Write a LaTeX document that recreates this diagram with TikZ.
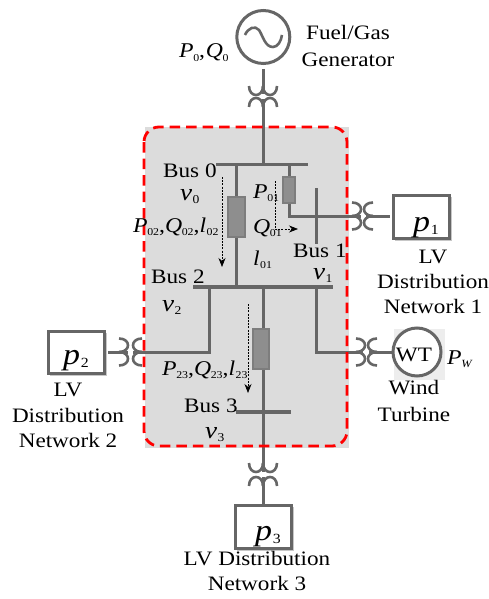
\documentclass[tikz,border=0pt]{standalone}
\usepackage{fontspec}
\setmainfont[FakeStretch=1.13]{Liberation Serif}
\usetikzlibrary{arrows.meta,shadows}
\definecolor{linegray}{HTML}{666666}
\definecolor{panelgray}{HTML}{DCDCDC}
\definecolor{elemgray}{HTML}{8E8E8E}
\newcommand{\Sb}[2]{\textit{#1}\kern-0.02em\raisebox{-0.32ex}{\fontsize{10.5}{12}\selectfont #2}}
\newcommand{\Sl}[2]{\textit{#1}\kern0.02em\raisebox{-0.32ex}{\fontsize{10.5}{12}\selectfont #2}}
\newcommand{\Sv}[2]{\textit{#1}\kern0.02em\raisebox{-0.3ex}{\fontsize{12}{12}\selectfont #2}}
\newcommand{\Sp}[2]{\textit{#1}\kern0.02em\raisebox{-0.28ex}{\fontsize{14}{14}\selectfont #2}}
\newcommand{\Si}[2]{\textit{#1}\kern-0.02em\raisebox{-0.32ex}{\fontsize{11}{12}\selectfont\textit{#2}}}
\tikzset{
  wire/.style={draw=linegray,line width=3pt},
  coil/.style={draw=linegray,line width=2.6pt,fill=none},
  buswire/.style={draw=linegray,line width=3.2pt},
  elem/.style={draw=linegray!85,line width=1.2pt,fill=elemgray,inner sep=0pt},
  netbox/.style={draw=linegray,line width=3pt,fill=white,inner sep=0pt},
  boxshade/.style={fill=black!22},
  ring/.style={circle,draw=linegray,line width=3pt,inner sep=0pt,fill=white},
  flow/.style={draw=black,line width=.7pt,dash pattern=on 2pt off 1.2pt,-{Stealth[length=9pt,width=7pt]}},
  lab/.style={anchor=base,inner sep=0pt,font=\fontsize{20.5}{22}\selectfont,text=black},
  sym/.style={anchor=base west,inner sep=0pt,font=\fontsize{21}{22}\selectfont,text=black},
  symv/.style={anchor=base west,inner sep=0pt,font=\fontsize{24}{24}\selectfont,text=black},
  symp/.style={anchor=base west,inner sep=0pt,font=\fontsize{30}{30}\selectfont,text=black},
  region/.style={draw=red,line width=2.8pt,dash pattern=on 10.5pt off 6pt,rounded corners=15pt}
}
% vertical-axis coil pair: (x, y of upper tips, y of lower tips)
\newcommand{\CoilV}[3]{%
  \draw[coil] (#1-14,#2) .. controls (#1-14,#2+12) and (#1,#2+12) .. (#1,#2);
  \draw[coil] (#1,#2) .. controls (#1,#2+12) and (#1+14,#2+12) .. (#1+14,#2);
  \draw[coil] (#1-14,#3) .. controls (#1-14,#3-12) and (#1,#3-12) .. (#1,#3);
  \draw[coil] (#1,#3) .. controls (#1,#3-12) and (#1+14,#3-12) .. (#1+14,#3);
}
% horizontal-axis coil pair: (y, x of left tips, x of right tips)
\newcommand{\CoilH}[3]{%
  \draw[coil] (#2,#1-13.5) .. controls (#2+12,#1-13.5) and (#2+12,#1) .. (#2,#1);
  \draw[coil] (#2,#1) .. controls (#2+12,#1) and (#2+12,#1+13.5) .. (#2,#1+13.5);
  \draw[coil] (#3,#1-13.5) .. controls (#3-12,#1-13.5) and (#3-12,#1) .. (#3,#1);
  \draw[coil] (#3,#1) .. controls (#3-12,#1) and (#3-12,#1+13.5) .. (#3,#1+13.5);
}
\begin{document}
\begin{tikzpicture}[x=1pt,y=-1pt]
\useasboundingbox (0,0) rectangle (489,599);
% panel
\fill[panelgray] (145,127) rectangle (349,448);
\fill[black!7] (394,329) rectangle (445,380);
\fill[boxshade] (395,197) rectangle (452,241);
\fill[boxshade] (50,333) rectangle (107,376);
\fill[boxshade] (237,507) rectangle (294,551);
% named points
\coordinate (b0l) at (216,164.5); \coordinate (b0r) at (308,164.5);
\coordinate (b0g) at (263,164.5); \coordinate (b0a) at (236,164.5); \coordinate (b0b) at (289,164.5);
\coordinate (b2l) at (193,287); \coordinate (b2r) at (333,287);
\coordinate (b2a) at (236,287); \coordinate (b2w) at (209,287); \coordinate (b2m) at (263,287); \coordinate (b2e) at (316,287);
\coordinate (b1t) at (316,188); \coordinate (b1b) at (316,244);
\coordinate (b3l) at (236,412); \coordinate (b3r) at (291,412); \coordinate (b3c) at (263,412);
\coordinate (w1) at (289,216); \coordinate (t1a) at (361,216); \coordinate (t1b) at (366,216);
\coordinate (w2) at (209,352); \coordinate (t2a) at (133,352); \coordinate (t2b) at (128,352);
\coordinate (we) at (316,352); \coordinate (t4a) at (363,352); \coordinate (t4b) at (369,352);
\coordinate (g1) at (263,69); \coordinate (g2) at (263,94); \coordinate (g3) at (263,99);
\coordinate (t3a) at (263,472); \coordinate (t3b) at (263,477);
\coordinate (p1in) at (390,216); \coordinate (p2in) at (108,352);
% devices
\node[ring,minimum size=53pt] (gen) at (263.3,37) {};
\node[netbox,minimum width=56pt,minimum height=43pt] (p1box) at (421,216.5) {};
\node[netbox,minimum width=56pt,minimum height=42pt] (p2box) at (76,352) {};
\node[netbox,minimum width=56pt,minimum height=43pt] (p3box) at (263,526.5) {};
\node[ring,minimum size=48pt] (wt) at (417,352) {};
\node[elem,minimum width=17pt,minimum height=40pt] (r02) at (236.5,217) {};
\node[elem,minimum width=12pt,minimum height=26pt] (r01) at (289,190) {};
\node[elem,minimum width=16pt,minimum height=40pt] (r23) at (261,349) {};
% sine
\draw[draw=linegray,line width=2.6pt] (245,35) .. controls (248,28) and (255,25) .. (259,30)
  .. controls (263,36) and (265,47) .. (273,47) .. controls (278,47) and (281,41) .. (282,35);
% wires
\draw[wire] (g1) -- (g2);
\draw[wire] (g3) -- (b0g);
\draw[buswire] (b0l) -- (b0r);
\draw[wire] (b0a) -- (r02.north -| b0a);
\draw[wire] (r02.south -| b2a) -- (b2a);
\draw[wire] (b0b) -- (r01.north);
\draw[wire] (r01.south) -- (w1) -- (t1a);
\draw[wire] (b1t) -- (b1b);
\draw[wire] (t1b) -- (p1in);
\draw[buswire] (b2l) -- (b2r);
\draw[wire] (b2w) -- (w2) -- (t2a);
\draw[wire] (t2b) -- (p2in);
\draw[wire] (b2e) -- (we) -- (t4a);
\draw[wire] (t4b) -- (wt.west);
\draw[wire] (r23.north -| b2m) -- (b2m);
\draw[wire] (r23.south -| b3c) -- (b3c);
\draw[buswire] (b3l) -- (b3r);
\draw[wire] (b3c) -- (t3a);
\draw[wire] (t3b) -- (p3box.north);
% coils
\CoilV{263}{86}{107}
\CoilV{263}{463}{486}
\CoilH{216}{352}{373}
\CoilH{352}{119}{142}
\CoilH{352}{356}{377}
% region outline
\draw[region] (144,127) rectangle (347,446);
% flow arrows
\coordinate (f2a) at (222,177); \coordinate (f2b) at (222,267);
\coordinate (f1a) at (275,181); \coordinate (f1c) at (275,229); \coordinate (f1b) at (298,229);
\coordinate (f3a) at (248,304); \coordinate (f3b) at (248,393);
\draw[flow] (f2a) -- (f2b);
\draw[flow] (f1a) -- (f1c) -- (f1b);
\draw[flow] (f3a) -- (f3b);
% labels
\node[sym] (lp0) at (179,58) {\Sb{P}{0},\kern.04em\Sb{Q}{0}};
\node[lab] (lfuel) at (348,40) {Fuel/Gas};
\node[lab] (lgen) at (348,67) {Generator};
\node[lab,anchor=base west] (lb0) at (163,177) {Bus 0};
\node[symv] (lv0) at (180,200) {\Sv{v}{0}};
\node[sym] (lp02) at (133,232) {\Sb{P}{02},\Sb{Q}{02},\Sl{l}{02}};
\node[sym] (lp01) at (253,198) {\Sb{P}{01}};
\node[sym] (lq01) at (253,233) {\Sb{Q}{01}};
\node[sym] (ll01) at (253,265) {\Sl{l}{01}};
\node[lab,anchor=base west] (lb1) at (293,257) {Bus 1};
\node[symv] (lv1) at (313,279) {\Sv{v}{1}};
\node[lab,anchor=base west] (lb2) at (151,283) {Bus 2};
\node[symv] (lv2) at (162,311) {\Sv{v}{2}};
\node[sym] (lp23) at (162,375) {\Sb{P}{23},\Sb{Q}{23},\Sl{l}{23}};
\node[lab,anchor=base west] (lb3) at (184,412) {Bus 3};
\node[symv] (lv3) at (205,438) {\Sv{v}{3}};
\node[symp] (lpp2) at (63,364) {\Sp{p}{2}};
\node[lab] (n2a) at (68,396) {LV};
\node[lab] (n2b) at (68,422) {Distribution};
\node[lab] (n2c) at (68,447) {Network 2};
\node[symp] (lpp1) at (413,231) {\Sp{p}{1}};
\node[lab] (n1a) at (433,263) {LV};
\node[lab] (n1b) at (433,288) {Distribution};
\node[lab] (n1c) at (433,313) {Network 1};
\node[lab] (lwt) at (414,361) {WT};
\node[sym] (lpw) at (447,364) {\Si{P}{W}};
\node[lab] (lw1) at (414,394) {Wind};
\node[lab] (lw2) at (414,421) {Turbine};
\node[symp] (lpp3) at (255,540) {\Sp{p}{3}};
\node[lab] (n3a) at (257,565) {LV Distribution};
\node[lab] (n3b) at (257,590) {Network 3};
\end{tikzpicture}
\end{document}
